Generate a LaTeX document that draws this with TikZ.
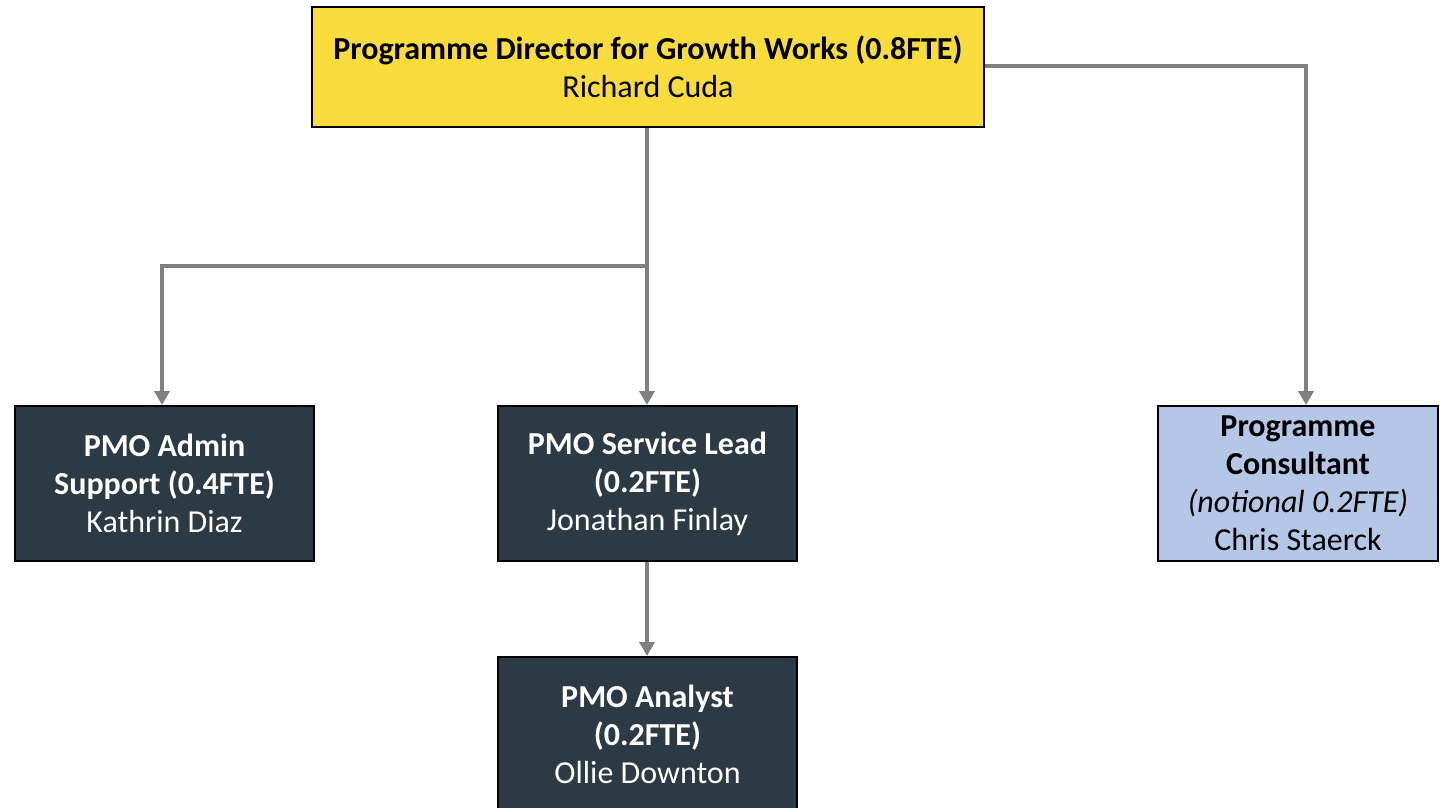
\documentclass[tikz,border=0pt]{standalone}
\usepackage{fontspec}
\setmainfont{Carlito}
\usetikzlibrary{arrows.meta}
\definecolor{dirYellow}{HTML}{FADC3C}
\definecolor{darkBox}{HTML}{2B3A44}
\definecolor{lightBlue}{HTML}{B4C7E7}
\definecolor{connGray}{HTML}{808080}
\begin{document}
\begin{tikzpicture}[x=0.5pt,y=-0.5pt,
  box/.style={draw=black,line width=1pt,align=center,inner sep=0pt,
    font=\fontsize{16}{19}\selectfont},
  topbox/.style={box,fill=dirYellow,text=black,minimum width=336pt,minimum height=60pt},
  darkbox/.style={box,fill=darkBox,text=white,minimum width=149.5pt,minimum height=77.5pt},
  bluebox/.style={box,fill=lightBlue,text=black,minimum width=140pt,minimum height=77.5pt},
  conn/.style={draw=connGray,line width=1.8pt,-{Triangle[length=7pt,width=7.5pt]}},
  connplain/.style={draw=connGray,line width=1.8pt}
]
\useasboundingbox (0,0) rectangle (1440,808);
\node[topbox] (dir) at (648,67) {\textbf{Programme Director for Growth Works (0.8FTE)}\\Richard Cuda};
\node[darkbox] (admin) at (164.5,483.5) {\textbf{PMO Admin}\\\textbf{Support (0.4FTE)}\\Kathrin Diaz};
\node[darkbox] (lead) at (647.5,483.5) {\textbf{PMO Service Lead}\\\textbf{(0.2FTE)}\\Jonathan Finlay};
\node[bluebox] (cons) at (1298,483.5) {\textbf{Programme}\\\textbf{Consultant}\\\textit{(notional 0.2FTE)}\\Chris Staerck};
\node[darkbox] (analyst) at (647.5,734.5) {\textbf{PMO Analyst}\\\textbf{(0.2FTE)}\\Ollie Downton};
\coordinate (split) at (647,266);
\draw[connplain] (dir.south -| split) -- (split);
\draw[conn] (split) -- (lead.north -| split);
\draw[conn] (split) -| (admin.north -| 162,0);
\draw[conn] (dir.east |- 0,66) -| (cons.north -| 1306,0);
\draw[conn] (lead.south -| split) -- (analyst.north -| split);
\end{tikzpicture}
\end{document}
